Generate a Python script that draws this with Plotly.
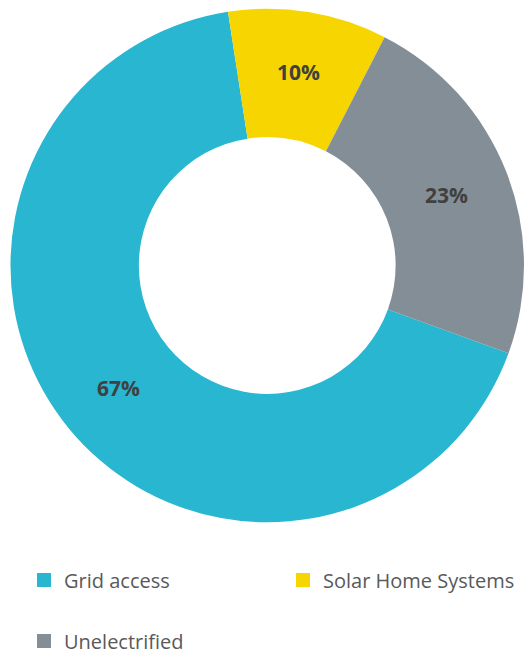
import plotly.graph_objects as go

# Household electricity access shares
labels = ["Grid access", "Solar Home Systems", "Unelectrified"]
values = [67, 10, 23]
colors = ["#29B6D1", "#F7D500", "#848E97"]

W, H = 524, 655

fig = go.Figure()

fig.add_trace(go.Pie(
    labels=labels,
    values=values,
    hole=0.5,
    sort=False,
    direction="clockwise",
    rotation=110,
    marker=dict(colors=colors, line=dict(width=0)),
    texttemplate="%{percent:.0%}",
    textposition="inside",
    insidetextorientation="horizontal",
    textfont=dict(family="Open Sans", size=21, color="#404040", weight="bold"),
    domain=dict(x=[0.02, 1.0], y=[1 - 523 / H, 1 - 8 / H]),
    showlegend=False,
    hoverinfo="label+percent",
))

# One legend box per entry so each can sit at its own spot
legend_ids = ["legend", "legend2", "legend3"]
for name, col, lg in zip(labels, colors, legend_ids):
    fig.add_trace(go.Scatter(
        x=[None], y=[None], mode="markers", name=name,
        marker=dict(symbol="square", size=14, color=col, line=dict(width=0)),
        legend=lg, showlegend=True, hoverinfo="skip",
    ))

legend_font = dict(family="Open Sans", size=20, color="#595959")


def legend_box(x_px, y_px):
    return dict(
        orientation="h", x=x_px / W, xanchor="left",
        y=1 - y_px / H, yanchor="middle",
        font=legend_font, bgcolor="rgba(0,0,0,0)",
        itemclick=False, itemdoubleclick=False,
    )


fig.update_layout(
    width=W, height=H,
    margin=dict(l=0, r=0, t=0, b=0, autoexpand=False),
    paper_bgcolor="white",
    plot_bgcolor="white",
    xaxis=dict(visible=False),
    yaxis=dict(visible=False),
    legend=legend_box(24, 580),
    legend2=legend_box(283, 580),
    legend3=legend_box(24, 641),
)

fig.write_html("out.html")
